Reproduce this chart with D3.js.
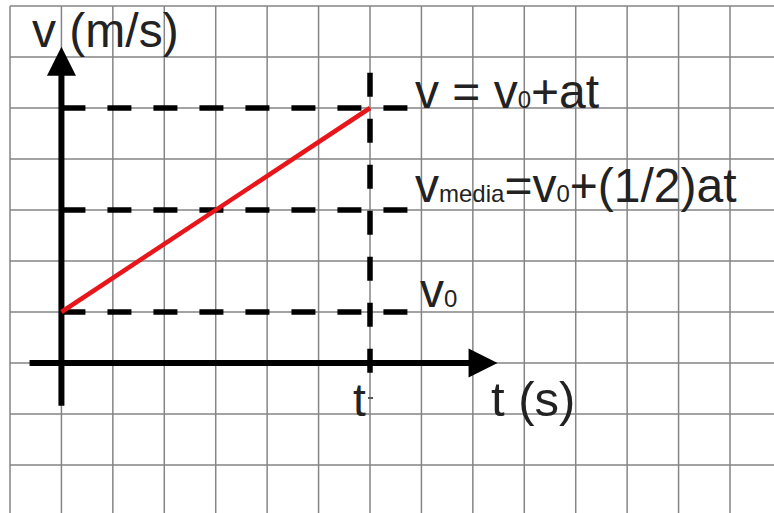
<!DOCTYPE html>
<html>
<head>
<meta charset="utf-8">
<script src="https://cdn.jsdelivr.net/npm/d3@7/dist/d3.min.js"></script>
<style>
  html, body { margin: 0; padding: 0; background: #fff; }
  svg { display: block; }
  text { font-family: "Liberation Sans", Arial, sans-serif; fill: #222; }
</style>
</head>
<body>
<script>
// ---- data (grid units) ----
const gridT = d3.range(-1, 14);        // vertical grid lines (t units)
const gridV = d3.range(-2, 8);         // horizontal grid lines (v units)
const lineT = [0, 6];                  // red line: t values
const lineV = [1, 5];                  // red line: v values
const levelV = [5, 3, 1];              // dashed guide levels: v, v_media, v0
const tMark = 6;                       // dashed vertical guide at t
const axisTRange = [-0.62, 8.48];      // horizontal axis extent
const axisVRange = [-0.84, 6.2];       // vertical axis extent

const W = 774, H = 513;
const svg = d3.select("body").append("svg").attr("width", W).attr("height", H);

const x = d3.scaleLinear().domain([-1, 13]).range([10, 730]);
const y = d3.scaleLinear().domain([0, 7]).range([363, 6]);

// grid
const grid = svg.append("g").attr("stroke", "#858585").attr("stroke-width", 1.5);
grid.selectAll("line.v").data(gridT).join("line").attr("class", "v")
  .attr("x1", d => x(d)).attr("x2", d => x(d)).attr("y1", y(7)).attr("y2", H);
grid.selectAll("line.h").data(gridV).join("line").attr("class", "h")
  .attr("x1", x(-1)).attr("x2", W).attr("y1", d => y(d)).attr("y2", d => y(d));

// dashed guides
const dash = svg.append("g").attr("stroke", "#000").attr("stroke-width", 5.5).attr("stroke-dasharray", "24,22");
dash.selectAll("line.lvl").data(levelV).join("line").attr("class", "lvl")
  .attr("x1", x(0)).attr("x2", x(6.87)).attr("y1", d => y(d)).attr("y2", d => y(d));
dash.append("line")
  .attr("x1", x(tMark)).attr("x2", x(tMark)).attr("y1", y(5.69)).attr("y2", y(-0.22));

// axes
const ax = svg.append("g");
const arrow = 29;
ax.append("line").attr("stroke", "#000").attr("stroke-width", 6)
  .attr("x1", x(0)).attr("x2", x(0)).attr("y1", y(axisVRange[0])).attr("y2", y(axisVRange[1]) + arrow - 2);
ax.append("path").attr("fill", "#000")
  .attr("d", `M${x(0)},${y(axisVRange[1])} L${x(0) - 14.5},${y(axisVRange[1]) + arrow} L${x(0) + 14.5},${y(axisVRange[1]) + arrow} Z`);
ax.append("line").attr("stroke", "#000").attr("stroke-width", 6)
  .attr("x1", x(axisTRange[0])).attr("x2", x(axisTRange[1]) - arrow + 2).attr("y1", y(0)).attr("y2", y(0));
ax.append("path").attr("fill", "#000")
  .attr("d", `M${x(axisTRange[1])},${y(0)} L${x(axisTRange[1]) - arrow},${y(0) - 14.5} L${x(axisTRange[1]) - arrow},${y(0) + 14.5} Z`);

// red line
svg.append("path")
  .datum(lineT.map((t, i) => [t, lineV[i]]))
  .attr("fill", "none").attr("stroke", "#e8161b").attr("stroke-width", 4.5)
  .attr("d", d3.line().x(d => x(d[0])).y(d => y(d[1])));

// texts
svg.append("text").attr("x", 32).attr("y", 47).attr("font-size", 48).text("v (m/s)");
svg.append("text").attr("x", 491).attr("y", 416).attr("font-size", 49).text("t (s)");
svg.append("text").attr("x", 353).attr("y", 416).attr("font-size", 46).text("t");
svg.append("line").attr("stroke", "#555").attr("stroke-width", 2)
  .attr("x1", x(tMark) - 2).attr("x2", x(tMark) + 3).attr("y1", 398).attr("y2", 398);

function label(xp, yp, parts) {
  const t = svg.append("text").attr("x", xp).attr("y", yp).attr("font-size", 48);
  parts.forEach(p => t.append("tspan").attr("font-size", p[1]).text(p[0]));
}
label(415, y(levelV[0]), [["v = v", 48], ["0", 24], ["+at", 48]]);
label(415, y(levelV[1]) - 8, [["v", 48], ["media", 24], ["=v", 48], ["0", 24], ["+(1/2)at", 48]]);
label(420, y(levelV[2]) - 5, [["v", 48], ["0", 24]]);
</script>
</body>
</html>
